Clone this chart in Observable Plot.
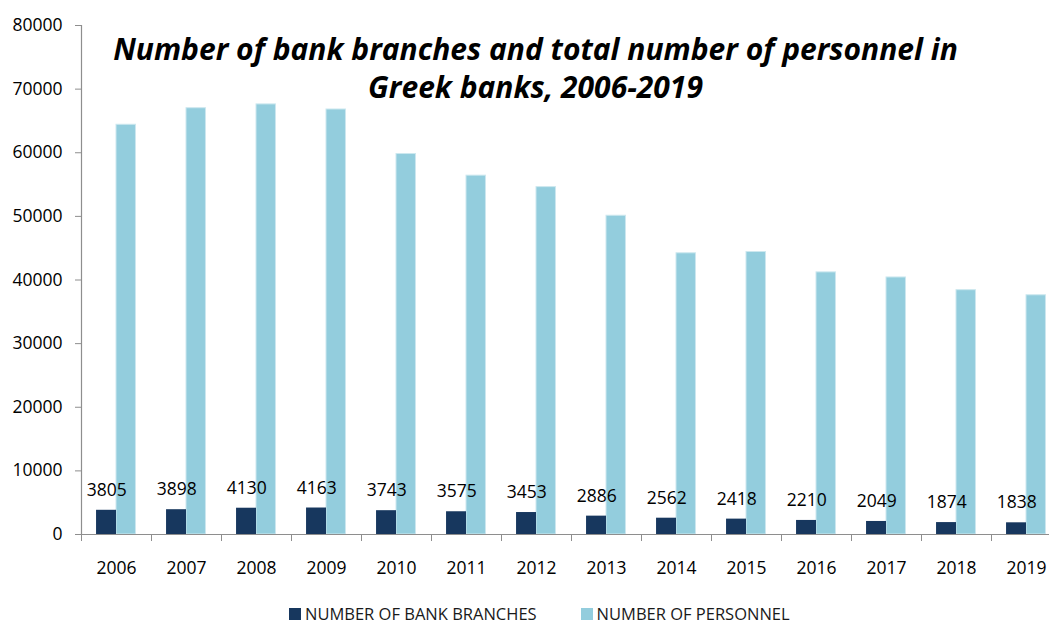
<!DOCTYPE html>
<html>
<head>
<meta charset="utf-8">
<script src="https://cdn.jsdelivr.net/npm/d3@7"></script>
<script src="https://cdn.jsdelivr.net/npm/@observablehq/plot@0.6"></script>
<style>
  html, body { margin: 0; padding: 0; background: #fff; overflow: hidden; }
  #wrap { width: 1049px; height: 624px; overflow: hidden; position: relative; font-family: "Open Sans", sans-serif; }
  #chart svg { max-width: none !important; }
  #legend { position: absolute; left: 289px; top: 605px; display: flex; align-items: center; font-size: 16.5px; line-height: 18px; color: #1a1a1a; white-space: nowrap; }
  #legend .sw { width: 12px; height: 12px; display: inline-block; margin-right: 4px; }
  #legend .item { display: flex; align-items: center; }
</style>
</head>
<body>
<div id="wrap"><div id="chart"></div><div id="legend"></div></div>
<script>
const years = ["2006","2007","2008","2009","2010","2011","2012","2013","2014","2015","2016","2017","2018","2019"];
const branches = [3805,3898,4130,4163,3743,3575,3453,2886,2562,2418,2210,2049,1874,1838];
const personnel = [64400,67000,67600,66800,59800,56400,54600,50100,44200,44400,41200,40400,38400,37600];
const yTicks = [0,10000,20000,30000,40000,50000,60000,70000,80000];
const seriesNames = ["NUMBER OF BANK BRANCHES", "NUMBER OF PERSONNEL"];
const seriesColors = ["#17375e", "#93cddd"];
const titleText = "Number of bank branches and total number of personnel in\nGreek banks, 2006-2019";

const rows = years.map((year, i) => ({year, branches: branches[i], personnel: personnel[i]}));

const W = 1061, H = 600, ML = 81, MR = 0, MT = 25, MB = 66;
const step = (W - ML - MR) / years.length;
const axisColor = "#8e8e8e";

const chart = Plot.plot({
  width: W,
  height: H,
  marginLeft: ML,
  marginRight: MR,
  marginTop: MT,
  marginBottom: MB,
  style: {fontFamily: "'Open Sans', sans-serif", fontSize: "17.5px", color: "#000", background: "#fff", maxWidth: "none"},
  x: {type: "band", domain: years, padding: 0, axis: null},
  y: {domain: [0, 80000], axis: null},
  marks: [
    Plot.barY(rows, {x: "year", y: "personnel", fill: seriesColors[1], stroke: "#cde8ef", strokeWidth: 1,
      insetLeft: step * 0.5, insetRight: step * 0.222}),
    Plot.barY(rows, {x: "year", y: "branches", fill: seriesColors[0],
      insetLeft: step * 0.215, insetRight: step * 0.5}),
    Plot.text(rows, {x: "year", y: "branches", text: d => String(d.branches), dx: -step * 0.14, dy: -20,
      fontSize: 17.5, fill: "#000"}),
    Plot.ruleY([0], {stroke: axisColor, strokeWidth: 1.2}),
    Plot.frame({anchor: "left", stroke: axisColor, strokeWidth: 1.2}),
    Plot.axisY({ticks: yTicks, tickSize: 6, tickPadding: 13, tickFormat: d => String(d), label: null, stroke: axisColor, fill: "#000", fontSize: 17.5}),
    Plot.axisX({tickSize: 7, tickFormat: () => "", label: null, dx: -step / 2, stroke: axisColor}),
    Plot.axisX({tickSize: 0, tickPadding: 27, label: null, fontSize: 17.5, fill: "#000"}),
    Plot.text([titleText], {frameAnchor: "top", lineAnchor: "top", dx: -36, dy: 8, lineHeight: 1.26,
      fontSize: 30, fontWeight: "bold", fontStyle: "italic", fill: "#000", text: d => d})
  ]
});
document.getElementById("chart").appendChild(chart);

const legend = document.getElementById("legend");
seriesNames.forEach((name, i) => {
  const item = document.createElement("span");
  item.className = "item";
  if (i > 0) item.style.marginLeft = "44px";
  const sw = document.createElement("span");
  sw.className = "sw";
  sw.style.background = seriesColors[i];
  const label = document.createElement("span");
  label.textContent = name;
  item.appendChild(sw);
  item.appendChild(label);
  legend.appendChild(item);
});
</script>
</body>
</html>
